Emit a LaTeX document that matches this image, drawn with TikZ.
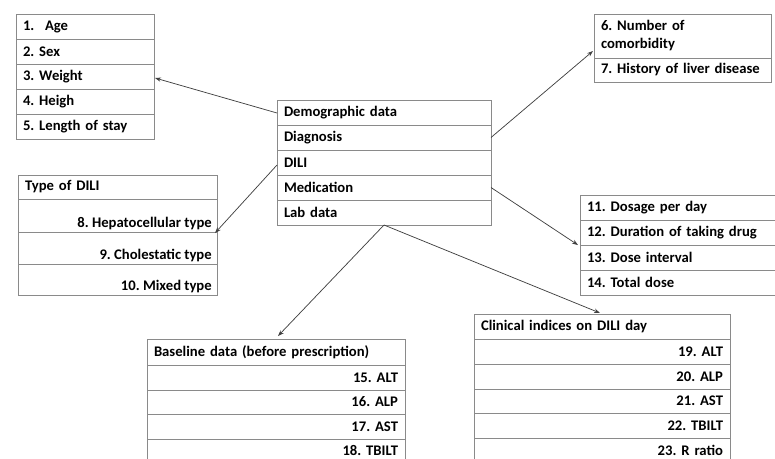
\documentclass[tikz,border=0pt]{standalone}
\usepackage{fontspec}
\setmainfont{Carlito}
\usetikzlibrary{arrows.meta,calc}
\definecolor{boxgray}{HTML}{8A8A8A}
\definecolor{linegray}{HTML}{404040}
\frenchspacing
\begin{document}
\begin{tikzpicture}[x=0.75pt,y=-0.75pt,
  font=\fontsize{11}{13.5}\selectfont\bfseries\frenchspacing,
  row/.style={draw=boxgray, line width=0.75pt, rectangle, anchor=north west,
    inner xsep=5.25pt, inner ysep=0pt, outer sep=0pt},
  lrow/.style={row, align=left},
  rrow/.style={row, align=right},
  conn/.style={draw=linegray, line width=0.55pt, -{Stealth[length=4.5pt,width=3.2pt]}}]
\useasboundingbox (0,0) rectangle (775,458);
\clip (0,0) rectangle (775,458);
% Box A
\node[lrow, minimum height=18.75pt, text width=93pt] (a1) at (16,14) {1.\hskip 8pt Age};
\node[lrow, minimum height=18.75pt, text width=93pt] (a2) at (16,39) {2. Sex};
\node[lrow, minimum height=18.75pt, text width=93pt] (a3) at (16,64) {3. Weight};
\node[lrow, minimum height=18.75pt, text width=93pt] (a4) at (16,89) {4. Heigh};
\node[lrow, minimum height=18.75pt, text width=93pt] (a5) at (16,114) {5. Length of stay};
% Center box
\node[lrow, minimum height=18.75pt, text width=150pt] (dem) at (277,100) {Demographic data};
\node[lrow, minimum height=18.75pt, text width=150pt] (diag) at (277,125) {Diagnosis};
\node[lrow, minimum height=18.75pt, text width=150pt] (dili) at (277,150) {DILI};
\node[lrow, minimum height=18.75pt, text width=150pt] (med) at (277,175) {Medication};
\node[lrow, minimum height=18.75pt, text width=150pt] (lab) at (277,200) {Lab data};
% Box B
\node[lrow, minimum height=33pt, text width=122.25pt] (b6) at (594,14) {6. Number of\\comorbidity};
\node[lrow, minimum height=18pt, text width=122.25pt] (b7) at (594,58) {7. History of liver disease};
% Box C
\node[lrow, minimum height=18pt, text width=138.75pt] (c0) at (18,175) {Type of DILI};
\node[row, minimum height=24.75pt, minimum width=149.25pt] (c8) at (18,199) {};
\node[row, minimum height=24pt, minimum width=149.25pt] (c9) at (18,232) {};
\node[row, minimum height=23.25pt, minimum width=149.25pt] (c10) at (18,264) {};
\node[anchor=base east, inner sep=0pt] (t8) at ($(c8.south east)+(-5,-4.5)$) {8. Hepatocellular type};
\node[anchor=base east, inner sep=0pt] (t9) at ($(c9.south east)+(-5,-4.5)$) {9. Cholestatic type};
\node[anchor=base east, inner sep=0pt] (t10) at ($(c10.south east)+(-5,-4.5)$) {10. Mixed type};
% Box D
\node[lrow, minimum height=18.75pt, text width=138pt] (d11) at (580,195) {11. Dosage per day};
\node[lrow, minimum height=18.75pt, text width=138pt] (d12) at (580,220) {12. Duration of taking drug};
\node[lrow, minimum height=18.75pt, text width=138pt] (d13) at (580,245) {13. Dose interval};
\node[lrow, minimum height=18.75pt, text width=138pt] (d14) at (580,270) {14. Total dose};
% Box E
\node[lrow, minimum height=19.5pt, text width=183pt] (e0) at (147,339) {Baseline data (before prescription)};
\node[rrow, minimum height=18.75pt, text width=183pt] (e15) at (147,365) {15. ALT};
\node[rrow, minimum height=18pt, text width=183pt] (e16) at (147,390) {16. ALP};
\node[rrow, minimum height=18.75pt, text width=183pt] (e17) at (147,414) {17. AST};
\node[rrow, minimum height=17.25pt, text width=183pt] (e18) at (147,439) {18. TBILT};
\draw[boxgray, line width=0.75pt] (e18.south west) -- ++(0,10) (e18.south east) -- ++(0,10);
% Box F
\node[lrow, minimum height=18.75pt, text width=181.5pt] (f0) at (474,314) {Clinical indices on DILI day};
\node[rrow, minimum height=18.75pt, text width=181.5pt] (f19) at (474,339) {19. ALT};
\node[rrow, minimum height=18.75pt, text width=181.5pt] (f20) at (474,364) {20. ALP};
\node[rrow, minimum height=18pt, text width=181.5pt] (f21) at (474,389) {21. AST};
\node[rrow, minimum height=18.75pt, text width=181.5pt] (f22) at (474,413) {22. TBILT};
\node[rrow, minimum height=18.75pt, text width=181.5pt] (f23) at (474,438) {23. R ratio};
% Connectors
\coordinate (labpt) at ($(lab.south west)+(107,0)$);
\coordinate (bpt) at ($(b6.south west)+(-1,-7)$);
\draw[conn] ($(dem.west)+(0,0.5)$) -- ($(a3.east)+(1,1.5)$);
\draw[conn] (diag.east) -- (bpt);
\draw[conn] ($(dili.west)+(0,2.5)$) -- ($(c9.north east)+(-2,1)$);
\draw[conn] (med.east) -- ($(d13.north west)+(-2,0)$);
\draw[conn] (labpt) -- ($(e0.north)+(2,-3)$);
\draw[conn] (labpt) -- ($(f0.north)+(-2,-1)$);
\end{tikzpicture}
\end{document}
